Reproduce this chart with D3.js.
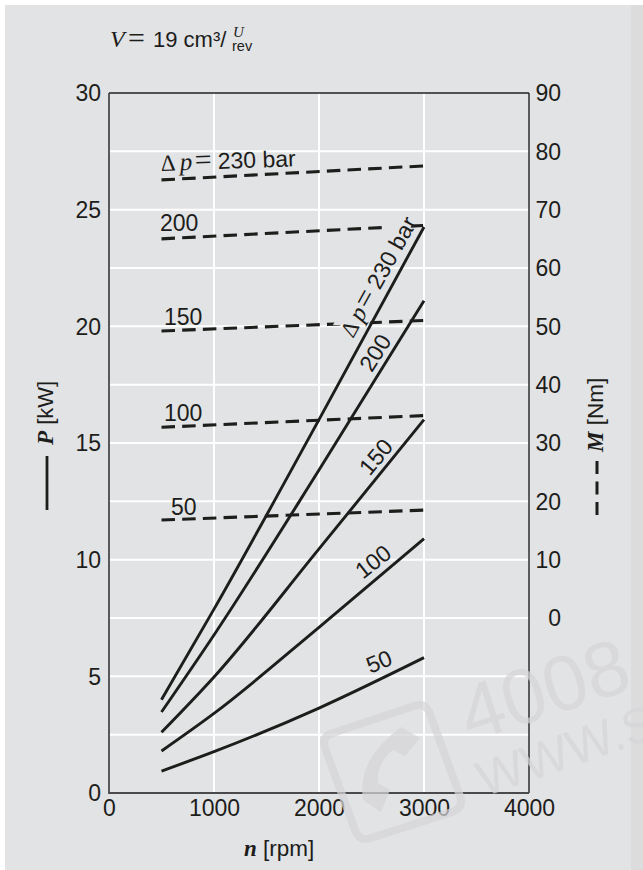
<!DOCTYPE html>
<html><head><meta charset="utf-8">
<script src="https://cdn.jsdelivr.net/npm/d3@7/dist/d3.min.js"></script>
<style>
html,body{margin:0;padding:0;background:#fff}
svg{display:block}
text{font-family:"Liberation Sans",Arial,sans-serif;fill:#1d1d1b}
.it{font-family:"Liberation Serif",serif;font-style:italic}
.bi{font-family:"Liberation Serif",serif;font-style:italic;font-weight:bold}
.sf{font-family:"Liberation Serif",serif}
</style></head><body>
<svg id="c" width="643" height="870"></svg>
<script>
const xTicks = [0,1000,2000,3000,4000];
const pTicks = [0,5,10,15,20,25,30];
const mTicks = [0,10,20,30,40,50,60,70,80,90];
const pGrid = [2.5,5,7.5,10,12.5,15,17.5,20,22.5,25,27.5];
const xGrid = [1000,2000,3000];

const solidN = [500,1000,2000,3000];
const power230 = [4.0,7.88,16.0,24.26];
const power200 = [3.47,6.77,13.84,21.1];
const power150 = [2.6,4.97,10.46,16.0];
const power100 = [1.8,3.41,7.1,10.9];
const power50  = [0.94,1.77,3.64,5.8];

const dashedN = [500,3000];
const torque230 = [75.1,77.5];
const torque200 = [65.0,67.3];
const torque150 = [49.2,51.0];
const torque100 = [32.7,34.7];
const torque50  = [16.8,18.5];

const x = d3.scaleLinear().domain([0,4000]).range([109,529]);
const yP = d3.scaleLinear().domain([0,30]).range([793,93]);
const yM = d3.scaleLinear().domain([0,90]).range([618,93]);
const ink = "#1d1d1b";
const svg = d3.select("#c");

// panel
svg.append("rect").attr("x",5).attr("y",5).attr("width",638).attr("height",865).attr("fill","#e2e3e5");
svg.append("rect").attr("x",631).attr("y",5).attr("width",12).attr("height",865).attr("fill","#dcdcdc");

// mask that clears the dashed lines behind the rotated label
const defs = svg.append("defs");
const mask = defs.append("mask").attr("id","knock").attr("maskUnits","userSpaceOnUse")
  .attr("x",0).attr("y",0).attr("width",643).attr("height",870);
mask.append("rect").attr("width",643).attr("height",870).attr("fill","#fff");
mask.append("polygon").attr("points","333,325 391,215 416,215 369,325").attr("fill","#000");

// grid
svg.append("g").selectAll("line").data(pGrid).join("line")
  .attr("x1",x(0)).attr("x2",x(4000)).attr("y1",d=>yP(d)).attr("y2",d=>yP(d))
  .attr("stroke","#fff").attr("stroke-width",2);
svg.append("g").selectAll("line").data(xGrid).join("line")
  .attr("x1",d=>x(d)).attr("x2",d=>x(d)).attr("y1",yP(30)).attr("y2",yP(0))
  .attr("stroke","#fff").attr("stroke-width",2);

// frame
svg.append("line").attr("x1",x(0)).attr("x2",x(4000)).attr("y1",yP(30)).attr("y2",yP(30)).attr("stroke","#222").attr("stroke-width",1.4);
svg.append("line").attr("x1",x(4000)).attr("x2",x(4000)).attr("y1",yP(30)).attr("y2",yP(0)).attr("stroke","#222").attr("stroke-width",1.4);
svg.append("line").attr("x1",x(0)).attr("x2",x(0)).attr("y1",yP(30)).attr("y2",yP(0)+1).attr("stroke","#4a4a4c").attr("stroke-width",1.8);
svg.append("line").attr("x1",x(0)).attr("x2",x(4000)).attr("y1",yP(0)).attr("y2",yP(0)).attr("stroke","#4a4a4c").attr("stroke-width",1.8);

// axes
function clean(g){ g.select(".domain").remove(); g.selectAll(".tick line").remove();
  g.selectAll("text").attr("font-size",23).attr("font-family",'"Liberation Sans",Arial,sans-serif').attr("fill",ink); }
svg.append("g").attr("transform","translate(0,793)")
  .call(d3.axisBottom(x).tickValues(xTicks).tickSize(0).tickFormat(d3.format("d"))).call(clean)
  .selectAll("text").attr("y",7).attr("dy",".71em");
svg.append("g").attr("transform","translate(109,0)")
  .call(d3.axisLeft(yP).tickValues(pTicks).tickSize(0)).call(clean)
  .selectAll("text").attr("x",-8).attr("dy",".34em");
svg.append("g").attr("transform","translate(529,0)")
  .call(d3.axisRight(yM).tickValues(mTicks).tickSize(0)).call(clean)
  .selectAll("text").attr("x",32).attr("dy",".34em").attr("text-anchor","end");

// dashed torque
const lineM = d3.line().x((d,i)=>x(dashedN[i])).y(d=>yM(d));
svg.append("g").attr("mask","url(#knock)").selectAll("path")
  .data([torque230,torque200,torque150,torque100,torque50]).join("path")
  .attr("d",lineM).attr("fill","none").attr("stroke",ink).attr("stroke-width",3.1)
  .attr("stroke-dasharray","13.5 7.2");

// solid power
const lineP = d3.line().x((d,i)=>x(solidN[i])).y(d=>yP(d)).curve(d3.curveMonotoneX);
svg.append("g").selectAll("path")
  .data([power230,power200,power150,power100,power50]).join("path")
  .attr("d",lineP).attr("fill","none").attr("stroke",ink).attr("stroke-width",2.9);

// helper for text
function label(px,py,rot,anchor,size){
  return svg.append("text").attr("transform",`translate(${px},${py}) rotate(${rot})`)
    .attr("text-anchor",anchor).attr("font-size",size);
}
function deltaP(t,k){
  t.append("tspan").attr("class","sf").attr("x",0).text("Δ");
  t.append("tspan").attr("class","it").attr("x",19*k).attr("font-size",25).text("p");
  t.append("tspan").attr("class","sf").attr("x",34*k).attr("font-size",30).text("=");
  t.append("tspan").attr("x",57*k).text("230 bar");
}
// torque labels
deltaP(label(161,171,-2,"start",23),1);
label(160,231,0,"start",23).text("200");
label(164,325,0,"start",23).text("150");
label(164,421,0,"start",23).text("100");
label(171,515,0,"start",23).text("50");
// power labels
deltaP(label(353,339,-61,"start",23),0.97);
label(382,357,-58,"middle",23).text("200");
label(382,462,-50,"middle",23).text("150");
label(378,568,-38,"middle",23).text("100");
label(382,669,-22,"middle",23).text("50");

// title
svg.append("text").attr("x",110).attr("y",47).attr("class","it").attr("font-size",24).text("V");
svg.append("text").attr("x",128).attr("y",48).attr("class","sf").attr("font-size",30).text("=");
svg.append("text").attr("x",153).attr("y",47).attr("font-size",22).text("19 cm³/");
svg.append("text").attr("x",233).attr("y",37).attr("class","it").attr("font-size",15).text("U");
svg.append("text").attr("x",232).attr("y",51).attr("font-size",14.5).text("rev");

// axis titles
const pt = label(53,445,-90,"start",22);
pt.append("tspan").attr("class","bi").attr("font-size",23).text("P");
pt.append("tspan").text(" [kW]");
const mt = label(603,452,-90,"start",22.5);
mt.append("tspan").attr("class","bi").attr("font-size",23).text("M");
mt.append("tspan").text(" [Nm]");
const nt = svg.append("text").attr("x",244).attr("y",856).attr("font-size",22.5);
nt.append("tspan").attr("class","bi").attr("font-size",23).text("n");
nt.append("tspan").text(" [rpm]");

// legend keys
svg.append("line").attr("x1",47).attr("x2",47).attr("y1",456).attr("y2",510).attr("stroke",ink).attr("stroke-width",2.8);
svg.append("line").attr("x1",597).attr("x2",597).attr("y1",461).attr("y2",515).attr("stroke",ink).attr("stroke-width",3).attr("stroke-dasharray","13 7.5");

// watermark
const wm = svg.append("g").attr("opacity",0.72);
const wmc = "#d5d6d8";
wm.append("text").attr("transform","translate(470,742) rotate(-18)").attr("font-size",78)
  .style("fill",wmc).text("4008");
wm.append("text").attr("transform","translate(484,797) rotate(-19)").attr("font-size",50)
  .style("fill",wmc).text("WWW.S");
wm.append("path").attr("d","M333,733 L414,706 Q426,702 430,714 L460,796 Q464,808 452,812 L371,838 Q359,842 355,830 L325,748 Q321,736 333,733 Z")
  .attr("fill","none").attr("stroke",wmc).attr("stroke-width",8);
wm.append("path").attr("d","M401,727 L420,738 L405,756 L393,750 Q376,764 378,783 L390,790 L381,812 L363,800 Q356,760 401,727 Z")
  .style("fill",wmc);
</script>
</body></html>
